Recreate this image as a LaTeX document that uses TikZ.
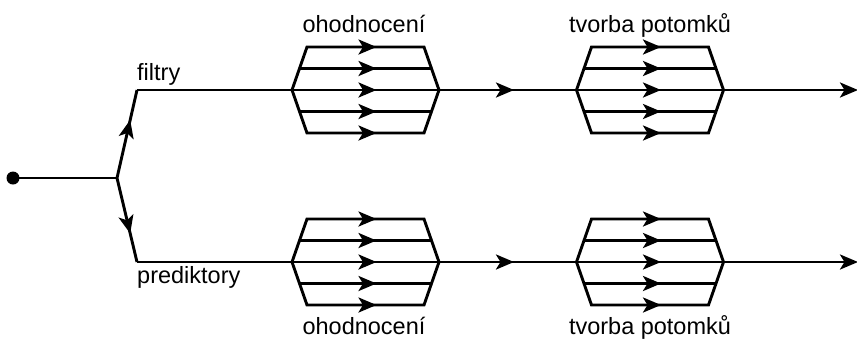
\documentclass[tikz,border=0pt]{standalone}
\usepackage{fontspec}
\setmainfont{Liberation Sans}
\usetikzlibrary{arrows.meta,decorations.markings}

\tikzset{
  flow/.tip={Stealth[length=18pt,width=15pt,inset=4.5pt]},
  wire/.style={line width=2.9pt,line join=miter},
  midarrow/.style={postaction={decorate},
    decoration={markings,mark=at position #1 with {\arrow{flow}}}},
  lbl/.style={inner sep=0pt,font=\fontsize{23.5}{28}\selectfont},
}

% hexagonal block of five parallel arrows: name, centre x, centre y
\newcommand{\hexblock}[3]{%
  \begin{scope}[shift={(#2,#3)}]
    \coordinate (#1-w) at (-73.5,0);
    \coordinate (#1-e) at (73.5,0);
    \draw[wire] (-73.5,0) -- (-58.5,-43) -- (58.5,-43) -- (73.5,0)
      -- (58.5,43) -- (-58.5,43) -- cycle;
    \foreach \dy/\hw in {-43/58.5,-21.5/66,0/73.5,21.5/66,43/58.5}{
      \pgfmathsetmacro{\tipd}{\hw+11}
      \draw[wire,midarrow=\tipd pt] (-\hw,\dy) -- (\hw,\dy);
    }
  \end{scope}}

\begin{document}
\begin{tikzpicture}[x=1pt,y=-1pt]
  \useasboundingbox (0,0) rectangle (857,338);

  % source and fork
  \coordinate (src) at (13,178);
  \coordinate (fork) at (117,178);
  \coordinate (up) at (137,90);
  \coordinate (dn) at (137,262);
  \fill (src) circle (6.5);
  \draw[wire] (src) -- (fork);
  \draw[wire,midarrow=0.66] (fork) -- (up);
  \draw[wire,midarrow=0.66] (fork) -- (dn);

  % blocks
  \hexblock{evalA}{365.5}{90}
  \hexblock{breedA}{650}{90}
  \hexblock{evalB}{365.5}{262}
  \hexblock{breedB}{650}{262}

  \coordinate (endA) at (858,90);
  \coordinate (endB) at (858,262);

  % upper chain
  \draw[wire] (up) -- (evalA-w);
  \draw[wire,midarrow=75pt] (evalA-e) -- (breedA-w);
  \draw[wire,-{flow}] (breedA-e) -- (endA);

  % lower chain
  \draw[wire] (dn) -- (evalB-w);
  \draw[wire,midarrow=75pt] (evalB-e) -- (breedB-w);
  \draw[wire,-{flow}] (breedB-e) -- (endB);

  % labels
  \node[lbl,anchor=base west] (lfil) at (137,80) {filtry};
  \node[lbl,anchor=base west] (lpred) at (137,283) {prediktory};
  \node[lbl,anchor=base] (leA) at (364,32) {ohodnocení};
  \node[lbl,anchor=base] (lbA) at (650,32) {tvorba potomků};
  \node[lbl,anchor=base] (leB) at (364,334) {ohodnocení};
  \node[lbl,anchor=base] (lbB) at (650,334) {tvorba potomků};
\end{tikzpicture}
\end{document}
